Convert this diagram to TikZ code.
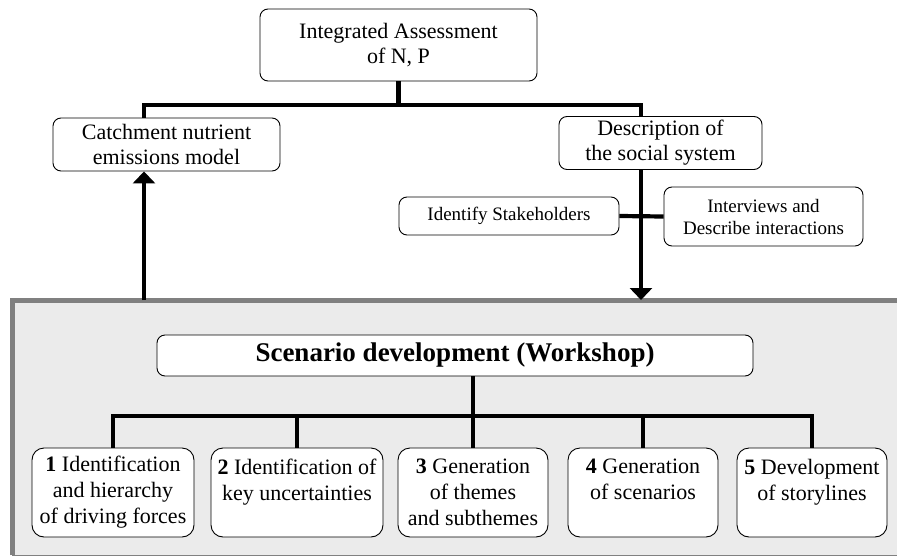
\documentclass[tikz,border=0pt]{standalone}
\usepackage{fontspec}
\setmainfont{Liberation Serif}
\usetikzlibrary{arrows.meta}
\definecolor{panelfill}{HTML}{EBEBEB}
\definecolor{panelline}{HTML}{808080}
\tikzset{
  box/.style={draw=black, line width=0.9pt, fill=white, rounded corners=8pt, inner sep=0pt, align=center,
    font=\fontsize{22}{25}\selectfont},
  smallbox/.style={box, font=\fontsize{19}{22}\selectfont},
  stepbox/.style={box, rounded corners=12pt, minimum width=150pt, minimum height=89pt, font=\fontsize{22}{26}\selectfont},
  conn/.style={line width=4.2pt},
  arr/.style={line width=4.2pt, -{Triangle[width=22pt,length=12pt]}},
}
\begin{document}
\begin{tikzpicture}[x=1pt,y=-1pt]
\useasboundingbox (0,0) rectangle (897,557);
% panel
\node[fill=panelfill, inner sep=0pt, minimum width=885pt, minimum height=255pt, anchor=north west] (panel) at (12,300) {};
\draw[panelline, line width=5pt] (panel.south west) -- (panel.north west) -- (panel.north east);
\draw[panelline, line width=1.5pt] (panel.south west) -- (panel.south east);

% top part
\node[box, minimum width=277pt, minimum height=72pt] (top) at (398.5,45) {Integrated Assessment\\of N, P};
\node[box, minimum width=227pt, minimum height=53pt] (catch) at (166.5,144.5) {Catchment nutrient\\emissions model};
\node[box, minimum width=203pt, minimum height=53pt] (desc) at (660.5,143) {Description of\\the social system};
\node[smallbox, minimum width=220pt, minimum height=38pt] (ident) at (509,216) {Identify Stakeholders};
\node[smallbox, minimum width=199pt, minimum height=59pt] (interv) at (763.5,216.5) {Interviews and\\Describe interactions};

\coordinate (hl) at (144,105);
\coordinate (hr) at (641,105);
\draw[conn] (top.south) -- (top.south |- hl);
\draw[conn] (hl |- catch.north) -- (hl) -- (hr) -- (hr |- desc.north);
\draw[conn] (ident.east) -- (interv.west);
\draw[arr] (hr |- desc.south) -- (hr |- panel.north);
\draw[arr] (hl |- panel.north) -- (catch.south -| hl);

% scenario part
\node[box, minimum width=596pt, minimum height=41pt, font=\fontsize{27}{30}\selectfont\bfseries] (scen) at (455,355.5) {Scenario development (Workshop)};
\node[stepbox, minimum width=162pt] (s1) at (113,492.5) {\textbf{1} Identification\\and hierarchy\\of driving forces};
\node[stepbox, minimum width=172pt] (s2) at (297,492.5) {\textbf{2} Identification of\\key uncertainties\\\mbox{}};
\node[stepbox] (s3) at (473,492.5) {\textbf{3} Generation\\of themes\\and subthemes};
\node[stepbox] (s4) at (643,492.5) {\textbf{4} Generation\\of scenarios\\\mbox{}};
\node[stepbox] (s5) at (812,492.5) {\textbf{5} Development\\of storylines\\\mbox{}};

\coordinate (bus) at (0,416);
\draw[conn] (s3.north |- scen.south) -- (s3.north |- bus);
\draw[conn] (s1.north) -- (s1.north |- bus) -- (s5.north |- bus) -- (s5.north);
\draw[conn] (s2.north) -- (s2.north |- bus);
\draw[conn] (s3.north) -- (s3.north |- bus);
\draw[conn] (s4.north) -- (s4.north |- bus);
\end{tikzpicture}
\end{document}
